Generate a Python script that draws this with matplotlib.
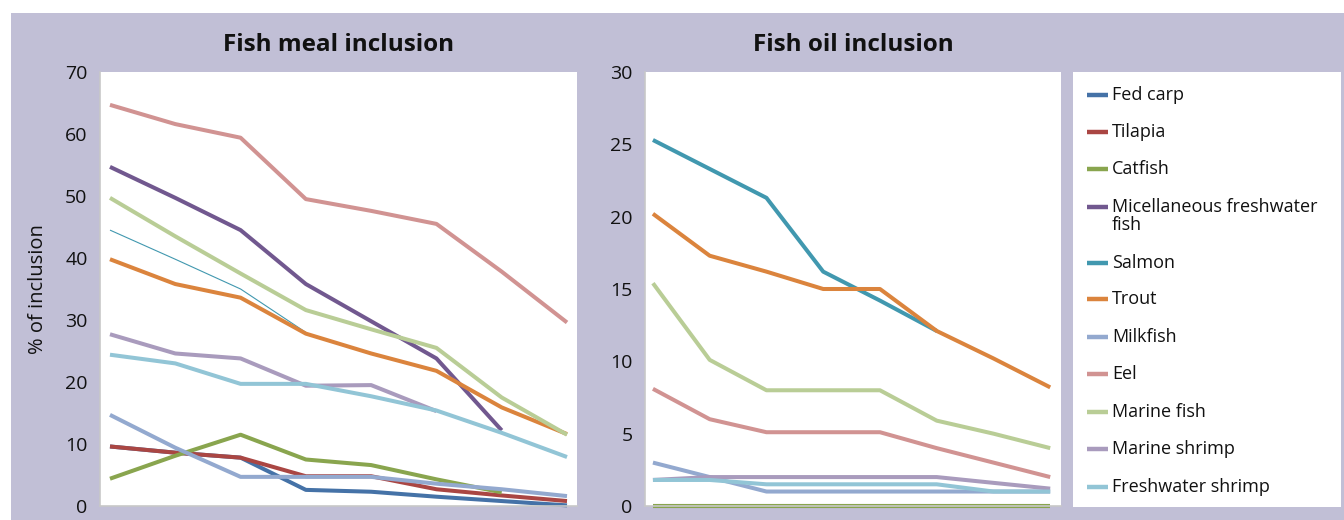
import numpy as np
import matplotlib
matplotlib.use("Agg")
import matplotlib.pyplot as plt
from matplotlib.patches import Rectangle

plt.rcParams['font.family'] = ['Open Sans', 'DejaVu Sans']

nan = np.nan

# Species in legend order
species = ["Fed carp", "Tilapia", "Catfish", "Micellaneous freshwater fish",
           "Salmon", "Trout", "Milkfish", "Eel", "Marine fish",
           "Marine shrimp", "Freshwater shrimp"]

colors = ["#4572A7", "#AA4643", "#89A54E", "#71588F", "#4198AF", "#DB843D",
          "#93A9CF", "#D19392", "#B9CD96", "#A99BBD", "#92C5D6"]

# Fish meal inclusion (%), eight successive periods
meal_fed_carp = [9.6, 8.6, 7.8, 2.6, 2.3, 1.5, 0.8, 0.1]
meal_tilapia = [9.6, 8.6, 7.8, 4.8, 4.8, 2.7, 1.7, 0.8]
meal_catfish = [4.4, 8.1, 11.5, 7.5, 6.6, 4.3, 2.2, nan]
meal_misc = [54.7, 49.7, 44.5, 35.8, 29.8, 23.8, 12.2, nan]
meal_salmon = [44.5, 39.8, 35.0, 28.0, nan, nan, nan, nan]
meal_trout = [39.8, 35.8, 33.6, 27.8, 24.6, 21.8, 15.9, 11.6]
meal_milkfish = [14.7, 9.4, 4.7, 4.7, 4.7, 3.6, 2.7, 1.6]
meal_eel = [64.7, 61.6, 59.4, 49.5, 47.6, 45.5, 37.8, 29.6]
meal_marine_fish = [49.7, 43.5, 37.5, 31.6, 28.5, 25.5, 17.5, 11.5]
meal_marine_shrimp = [27.7, 24.6, 23.8, 19.4, 19.5, 15.3, nan, nan]
meal_fw_shrimp = [24.4, 23.0, 19.7, 19.7, 17.7, 15.4, 11.8, 7.9]

# Fish oil inclusion (%)
oil_fed_carp = [0, 0, 0, 0, 0, 0, 0, 0]
oil_tilapia = [0, 0, 0, 0, 0, 0, 0, 0]
oil_catfish = [0, 0, 0, 0, 0, 0, 0, 0]
oil_misc = [nan, nan, nan, nan, nan, nan, nan, nan]
oil_salmon = [25.3, 23.3, 21.3, 16.2, 14.2, 12.1, nan, nan]
oil_trout = [20.2, 17.3, 16.2, 15.0, 15.0, 12.1, 10.2, 8.2]
oil_milkfish = [3.0, 2.0, 1.0, 1.0, 1.0, 1.0, 1.0, 1.0]
oil_eel = [8.1, 6.0, 5.1, 5.1, 5.1, 4.0, 3.0, 2.0]
oil_marine_fish = [15.4, 10.1, 8.0, 8.0, 8.0, 5.9, 5.0, 4.0]
oil_marine_shrimp = [1.8, 2.0, 2.0, 2.0, 2.0, 2.0, 1.6, 1.2]
oil_fw_shrimp = [1.8, 1.8, 1.5, 1.5, 1.5, 1.5, 1.0, 1.0]

meal = [meal_fed_carp, meal_tilapia, meal_catfish, meal_misc, meal_salmon,
        meal_trout, meal_milkfish, meal_eel, meal_marine_fish,
        meal_marine_shrimp, meal_fw_shrimp]
oil = [oil_fed_carp, oil_tilapia, oil_catfish, oil_misc, oil_salmon,
       oil_trout, oil_milkfish, oil_eel, oil_marine_fish,
       oil_marine_shrimp, oil_fw_shrimp]

meal_widths = [2.9] * 11
meal_widths[4] = 0.8  # salmon drawn as a fine line in the meal panel

W, H = 1344, 520
fig = plt.figure(figsize=(W / 100, H / 100), dpi=100)
fig.patch.set_facecolor("white")

bg = "#C1BFD6"
fig.add_artist(Rectangle((11 / W, 0), 1 - 11 / W, 1 - 13 / H,
                         transform=fig.transFigure, facecolor=bg,
                         edgecolor="none", zorder=-10))


def px_axes(x0, x1, ytop, ybot):
    return fig.add_axes([x0 / W, 1 - ybot / H, (x1 - x0) / W, (ybot - ytop) / H])


ax1 = px_axes(100, 577, 72, 506)
ax2 = px_axes(645, 1061, 72, 506)
axl = px_axes(1073, 1341, 72, 507)

x = np.arange(8)


def style(ax, ymax, step, title, xlim):
    ax.set_facecolor("white")
    ax.set_xlim(*xlim)
    ax.set_ylim(0, ymax)
    ax.set_yticks(np.arange(0, ymax + 1, step))
    ax.set_xticks([])
    ax.tick_params(axis="y", length=0, pad=9, labelsize=14, labelcolor="#111111")
    for s in ["top", "right"]:
        ax.spines[s].set_visible(False)
    for s in ["left", "bottom"]:
        ax.spines[s].set_color("#C8C8C8")
        ax.spines[s].set_linewidth(1.2)
    ax.set_title(title, fontsize=17.5, fontweight="bold", pad=15, color="#111111")


style(ax1, 70, 10, "Fish meal inclusion", (-0.153, 7.153))
style(ax2, 30, 5, "Fish oil inclusion", (-0.14, 7.19))
ax1.set_ylabel("% of inclusion", fontsize=14.5, labelpad=12, color="#111111")

for vals, c, lw in zip(meal, colors, meal_widths):
    ax1.plot(x, vals, color=c, lw=lw, clip_on=False, solid_capstyle="butt")
for vals, c in zip(oil, colors):
    ax2.plot(x, vals, color=c, lw=2.9, clip_on=False, solid_capstyle="butt")

# Legend panel
axl.set_xlim(1073, 1341)
axl.set_ylim(507, 72)
axl.set_facecolor("white")
axl.set_xticks([])
axl.set_yticks([])
for s in axl.spines.values():
    s.set_visible(False)

entry_y = [95, 132, 169, 207, 263, 299, 337, 374, 412, 449, 487]
for name, c, yy in zip(species, colors, entry_y):
    axl.plot([1087, 1108], [yy, yy], color=c, lw=3.2, solid_capstyle="butt")
    if name.startswith("Micellaneous"):
        axl.text(1112, yy, "Micellaneous freshwater", va="center", ha="left",
                 fontsize=13, color="#111111")
        axl.text(1112, yy + 18, "fish", va="center", ha="left",
                 fontsize=13, color="#111111")
    else:
        axl.text(1112, yy, name, va="center", ha="left", fontsize=13,
                 color="#111111")

fig.savefig("out.png", dpi=100)
